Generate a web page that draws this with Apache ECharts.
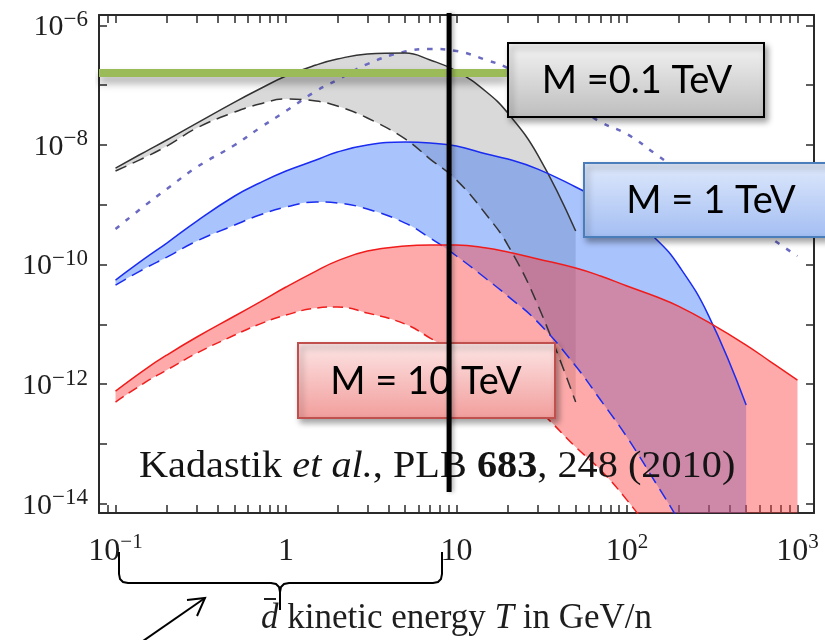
<!DOCTYPE html>
<html>
<head>
<meta charset="utf-8">
<script src="https://cdn.jsdelivr.net/npm/echarts@6/dist/echarts.min.js"></script>
<style>
  html, body { margin: 0; padding: 0; background: #ffffff; }
  #chart { width: 825px; height: 640px; }
</style>
</head>
<body>
<div id="chart"></div>
<script>
// Antideuteron flux bands vs kinetic energy T (GeV/n), three dark-matter masses.

// M = 0.1 TeV band (grey): max (solid) and min (dashed) propagation
const tBlack = [0.1, 0.15, 0.2, 0.3, 0.5, 0.7, 1, 1.5, 2, 3, 5, 7, 10, 15, 20, 30, 50];
const blackMax = [4.11e-9, 7.76e-9, 1.21e-8, 2.32e-8, 5.21e-8, 8.61e-8, 1.42e-7, 2.17e-7, 2.73e-7,
  3.31e-7, 3.44e-7, 2.63e-7, 1.72e-7, 7.67e-8, 3.41e-8, 6.78e-9, 3.63e-10];
const blackMin = [3.66e-9, 6.28e-9, 9.59e-9, 1.92e-8, 3.55e-8, 4.83e-8, 5.86e-8, 5.42e-8, 4.47e-8,
  2.82e-8, 1.26e-8, 5.81e-9, 2.59e-9, 6.73e-10, 2.12e-10, 2.10e-11, 5.02e-13];

// M = 1 TeV band (blue)
const tBlue = [0.1, 0.15, 0.2, 0.3, 0.5, 0.7, 1, 1.5, 2, 3, 5, 7, 10, 15, 20, 30, 50, 70, 100, 150, 200, 300, 500];
const blueMax = [5.51e-11, 1.29e-10, 2.29e-10, 5.34e-10, 1.40e-9, 2.31e-9, 3.66e-9, 5.59e-9, 7.61e-9,
  9.96e-9, 1.12e-8, 1.08e-8, 9.59e-9, 7.05e-9, 5.81e-9, 3.95e-9, 1.98e-9, 1.20e-9, 6.73e-10,
  2.57e-10, 9.82e-11, 1.43e-11, 4.48e-13];
const blueMin = [4.54e-11, 8.73e-11, 1.33e-10, 2.47e-10, 4.58e-10, 6.73e-10, 9.16e-10, 1.11e-9, 1.07e-9,
  8.47e-10, 4.94e-10, 2.77e-10, 1.39e-10, 5.73e-11, 2.97e-11, 1.09e-11, 2.01e-12, 5.42e-13, 1.30e-13,
  2.06e-14, 5.35e-15, 6.4e-16, 3.6e-17];

// M = 10 TeV band (red)
const tRed = [0.1, 0.15, 0.2, 0.3, 0.5, 0.7, 1, 1.5, 2, 3, 5, 7, 10, 15, 20, 30, 50, 70, 100, 150, 200, 300, 500, 700, 1000];
const redMax = [7.67e-13, 1.79e-12, 3.07e-12, 6.14e-12, 1.38e-11, 2.36e-11, 4.21e-11, 7.78e-11, 1.15e-10,
  1.68e-10, 2.04e-10, 2.12e-10, 2.12e-10, 1.89e-10, 1.62e-10, 1.24e-10, 8.73e-11, 6.43e-11, 4.37e-11,
  2.86e-11, 2.02e-11, 1.09e-11, 4.51e-12, 2.34e-12, 1.17e-12];
const redMin = [5.02e-13, 1.08e-12, 1.72e-12, 3.31e-12, 6.62e-12, 1.01e-11, 1.43e-11, 1.87e-11, 1.95e-11,
  1.55e-11, 1.01e-11, 5.90e-12, 3.18e-12, 1.42e-12, 7.96e-13, 3.69e-13, 8.87e-14, 3.66e-14, 1.15e-14,
  2.5e-15, 7.8e-16, 1.1e-16, 7.7e-18, 1.1e-18, 1.6e-19];

// Dotted curve
const tDotted = [0.1, 0.15, 0.2, 0.3, 0.5, 0.7, 1, 1.5, 2, 3, 5, 7, 10, 15, 20, 30, 50, 70, 100, 150, 200, 300, 500, 700, 1000];
const dotted = [3.93e-10, 9.89e-10, 1.83e-9, 4.27e-9, 9.96e-9, 1.92e-8, 3.69e-8, 7.96e-8, 1.22e-7, 2.25e-7,
  3.65e-7, 4.02e-7, 3.72e-7, 2.63e-7, 1.93e-7, 1.00e-7, 4.47e-8, 2.41e-8, 1.52e-8, 6.78e-9, 3.80e-9,
  1.69e-9, 6.00e-10, 2.77e-10, 1.39e-10];

// Horizontal sensitivity level and vertical marker
const levelT = [0.08, 20];
const levelFlux = 1.59e-7;
const markerT = 9.05;
const markerFlux = [1.57e-14, 1.61e-6];

// Axes
const xRange = [0.08, 1250];
const yRange = [7e-15, 1.49e-6];
const xTickValues = [0.09, 0.1, 0.2, 0.3, 0.4, 0.5, 0.6, 0.7, 0.8, 0.9, 1, 2, 3, 4, 5, 6, 7, 8, 9,
  10, 20, 30, 40, 50, 60, 70, 80, 90, 100, 200, 300, 400, 500, 600, 700, 800, 900, 1000];
const xLabelValues = [0.1, 1, 10, 100, 1000];
const yTickValues = [1e-14, 1e-13, 1e-12, 1e-11, 1e-10, 1e-9, 1e-8, 1e-7, 1e-6];
const yLabelValues = [1e-14, 1e-12, 1e-10, 1e-8, 1e-6];

const SERIF = 'Liberation Serif';
const SMOOTH = 0.45;
const INK = '#2a2a2a';

function pairs(t, v) { return t.map((x, i) => [x, v[i]]); }

function powerLabel(v) {
  const e = Math.round(Math.log10(v));
  if (e === 0) return '{b|1}';
  if (e === 1) return '{b|10}';
  return '{b|10}{s|' + (e < 0 ? '\u2212' + (-e) : String(e)) + '}';
}

// Cubic segments of a smoothed polyline (same scheme as the line series uses),
// so the band fills follow the drawn curves.
function smoothSegments(pts, s) {
  const segs = [];
  const n = pts.length;
  let cpx0 = pts[0][0], cpy0 = pts[0][1];
  let prevX = cpx0, prevY = cpy0;
  const clamp = (v, a, b) => Math.max(Math.min(v, Math.max(a, b)), Math.min(a, b));
  for (let k = 1; k < n; k++) {
    const x = pts[k][0], y = pts[k][1];
    let cpx1 = x, cpy1 = y, nx0 = x, ny0 = y;
    if (k < n - 1) {
      const nextX = pts[k + 1][0], nextY = pts[k + 1][1];
      let vx = nextX - prevX, vy = nextY - prevY;
      const lenPrev = Math.hypot(x - prevX, y - prevY);
      const lenNext = Math.hypot(nextX - x, nextY - y);
      const r = lenNext / (lenNext + lenPrev);
      nx0 = clamp(x + vx * s * r, nextX, x);
      ny0 = clamp(y + vy * s * r, nextY, y);
      vx = nx0 - x; vy = ny0 - y;
      cpx1 = clamp(x - vx * lenPrev / lenNext, prevX, x);
      cpy1 = clamp(y - vy * lenPrev / lenNext, prevY, y);
      vx = x - cpx1; vy = y - cpy1;
      nx0 = x + vx * lenNext / lenPrev;
      ny0 = y + vy * lenNext / lenPrev;
    }
    segs.push([cpx0, cpy0, cpx1, cpy1, x, y, prevX, prevY]);
    cpx0 = nx0; cpy0 = ny0;
    prevX = x; prevY = y;
  }
  return segs;
}

function bandPath(up, lo) {
  let d = 'M' + up[0][0] + ' ' + up[0][1];
  smoothSegments(up, SMOOTH).forEach(g => {
    d += 'C' + g[0] + ' ' + g[1] + ' ' + g[2] + ' ' + g[3] + ' ' + g[4] + ' ' + g[5];
  });
  const last = lo[lo.length - 1];
  d += 'L' + last[0] + ' ' + last[1];
  const lsegs = smoothSegments(lo, SMOOTH);
  for (let i = lsegs.length - 1; i >= 0; i--) {
    const g = lsegs[i];
    d += 'C' + g[2] + ' ' + g[3] + ' ' + g[0] + ' ' + g[1] + ' ' + g[6] + ' ' + g[7];
  }
  return d + 'Z';
}

// Filled band between the min and max curves
function band(t, lo, hi, fill) {
  return {
    type: 'custom', z: 1, silent: true, clip: true,
    data: pairs(t, hi),
    renderItem: function (params, api) {
      if (params.dataIndex !== 0) return null;
      const up = t.map((x, i) => api.coord([x, hi[i]]));
      const dn = t.map((x, i) => api.coord([x, lo[i]]));
      return { type: 'path', shape: { pathData: bandPath(up, dn) }, style: { fill: fill, stroke: null } };
    }
  };
}

function curve(t, v, color, type, width) {
  return { type: 'line', data: pairs(t, v), smooth: SMOOTH, symbol: 'none', silent: true, z: 3,
    lineStyle: { color: color, type: type, width: width } };
}

const axisLine = { show: true, onZero: false, lineStyle: { color: INK, width: 2 } };

function xAxisDef(pos, withLabels) {
  return {
    type: 'log', min: xRange[0], max: xRange[1], position: pos,
    axisLine: axisLine,
    axisTick: { show: true, inside: true, length: 8, customValues: xTickValues,
      lineStyle: { color: INK, width: 1.5 } },
    minorTick: { show: false },
    splitLine: { show: false },
    axisLabel: withLabels ? {
      customValues: xLabelValues, margin: 19, formatter: powerLabel, color: '#1e1e1e',
      rich: {
        b: { fontFamily: SERIF, fontSize: 32, lineHeight: 36, verticalAlign: 'bottom', color: '#1e1e1e' },
        s: { fontFamily: SERIF, fontSize: 21, lineHeight: 25, verticalAlign: 'top', color: '#1e1e1e' }
      }
    } : { show: false },
    name: withLabels ? '{it|d}{n| kinetic energy }{it|T}{n| in GeV/n}' : '',
    nameLocation: 'middle', nameGap: 86,
    nameTextStyle: {
      rich: {
        n: { fontFamily: SERIF, fontSize: 35, lineHeight: 40, color: '#1e1e1e' },
        it: { fontFamily: SERIF, fontSize: 35, lineHeight: 40, fontStyle: 'italic', color: '#1e1e1e' }
      }
    }
  };
}

function yAxisDef(pos, withLabels) {
  return {
    type: 'log', min: yRange[0], max: yRange[1], position: pos,
    axisLine: axisLine,
    axisTick: { show: true, inside: true, length: 8, customValues: yTickValues,
      lineStyle: { color: INK, width: 1.5 } },
    minorTick: { show: false },
    splitLine: { show: false },
    axisLabel: withLabels ? {
      customValues: yLabelValues, margin: 11, formatter: powerLabel, color: '#1e1e1e',
      rich: {
        b: { fontFamily: SERIF, fontSize: 30, lineHeight: 34, verticalAlign: 'bottom', color: '#1e1e1e' },
        s: { fontFamily: SERIF, fontSize: 23, lineHeight: 16, verticalAlign: 'top', color: '#1e1e1e' }
      }
    } : { show: false }
  };
}

function grad(top, bottom) {
  return new echarts.graphic.LinearGradient(0, 0, 0, 1, [
    { offset: 0, color: top }, { offset: 1, color: bottom }
  ]);
}

function boxRect(x, y, w, h, top, bottom, stroke) {
  return { type: 'rect', z: 20, silent: true,
    shape: { x: x, y: y, width: w, height: h },
    style: { fill: grad(top, bottom), stroke: stroke, lineWidth: 2,
      shadowBlur: 6, shadowOffsetX: 3, shadowOffsetY: 4, shadowColor: 'rgba(0,0,0,0.35)' } };
}

function boxText(x, y, text) {
  return { type: 'text', z: 21, silent: true, x: x, y: y,
    style: { text: text, fontFamily: 'Lato', fontSize: 38, fill: '#000',
      align: 'center', verticalAlign: 'middle', textAlign: 'center', textVerticalAlign: 'middle' } };
}

const chart = echarts.init(document.getElementById('chart'), null, { renderer: 'canvas' });

chart.setOption({
  animation: false,
  backgroundColor: '#ffffff',
  grid: { left: 99, right: 11, top: 15, bottom: 127, containLabel: false, outerBoundsMode: 'none' },
  xAxis: [xAxisDef('bottom', true), xAxisDef('top', false)],
  yAxis: [yAxisDef('left', true), yAxisDef('right', false)],
  series: [
    band(tBlack, blackMin, blackMax, 'rgba(128,128,128,0.30)'),
    band(tBlue, blueMin, blueMax, 'rgba(40,106,247,0.40)'),
    band(tRed, redMin, redMax, 'rgba(253,62,62,0.44)'),
    curve(tDotted, dotted, '#6a6ac2', [5, 8], 2.5),
    curve(tBlack, blackMax, '#333333', 'solid', 1.5),
    curve(tBlack, blackMin, '#333333', [12, 7], 1.5),
    curve(tBlue, blueMax, '#1a2cf0', 'solid', 1.5),
    curve(tBlue, blueMin, '#1a2cf0', [12, 7], 1.5),
    curve(tRed, redMax, '#f01c1c', 'solid', 1.5),
    curve(tRed, redMin, '#f01c1c', [10, 6], 1.5),
    { type: 'line', data: levelT.map(t => [t, levelFlux]), symbol: 'none', silent: true, z: 4,
      lineStyle: { color: '#9bbb59', width: 8, cap: 'butt',
        shadowColor: 'rgba(0,0,0,0.35)', shadowBlur: 8, shadowOffsetY: 6 } },
    { type: 'line', data: markerFlux.map(f => [markerT, f]), symbol: 'none', silent: true,
      z: 30, clip: false,
      lineStyle: { color: '#000000', width: 5, cap: 'butt',
        shadowColor: 'rgba(0,0,0,0.3)', shadowBlur: 4, shadowOffsetX: 2 } }
  ],
  graphic: [
    boxRect(508, 43, 256, 74, '#f4f4f4', '#bdbdbd', '#000000'),
    boxText(637, 81, 'M =0.1 TeV'),
    boxRect(584, 163, 250, 74, '#dfe9fb', '#a3bef3', '#4a7ebb'),
    boxText(711, 201, 'M = 1 TeV'),
    boxRect(298, 343, 257, 75, '#fde6e6', '#f19d9b', '#c0504d'),
    boxText(426, 382, 'M = 10 TeV'),
    { type: 'text', z: 22, silent: true, x: 139, y: 467, scaleX: 1.06,
      style: {
        text: '{n|Kadastik }{i|et al.}{n|, PLB }{b|683}{n|, 248 (2010)}',
        verticalAlign: 'middle', textVerticalAlign: 'middle', align: 'left', textAlign: 'left',
        rich: {
          n: { fontFamily: SERIF, fontSize: 38, fill: '#141414' },
          i: { fontFamily: SERIF, fontSize: 38, fontStyle: 'italic', fill: '#141414' },
          b: { fontFamily: SERIF, fontSize: 38, fontWeight: 'bold', fill: '#141414' }
        }
      } },
    // bar over the d
    { type: 'line', z: 22, silent: true, shape: { x1: 264, y1: 599, x2: 276, y2: 599 },
      style: { stroke: '#1e1e1e', lineWidth: 2 } },
    // brace spanning 0.1 .. 10 GeV/n
    { type: 'polyline', z: 22, silent: true,
      shape: { points: [[119, 552], [119, 574], [120, 579], [123, 582], [128, 583], [271, 583],
        [276, 584], [279, 587], [280, 592], [280, 610]] },
      style: { stroke: '#000', lineWidth: 2, fill: null } },
    { type: 'polyline', z: 22, silent: true,
      shape: { points: [[280, 610], [280, 592], [281, 587], [284, 584], [289, 583], [433, 583],
        [438, 582], [441, 579], [442, 574], [442, 552]] },
      style: { stroke: '#000', lineWidth: 2, fill: null } },
    // pointer arrow
    { type: 'line', z: 22, silent: true, shape: { x1: 143, y1: 641, x2: 205, y2: 598 },
      style: { stroke: '#000', lineWidth: 2 } },
    { type: 'polyline', z: 22, silent: true, shape: { points: [[187, 600], [205, 598], [197, 616]] },
      style: { stroke: '#000', lineWidth: 2, fill: null } }
  ]
});
</script>
</body>
</html>
